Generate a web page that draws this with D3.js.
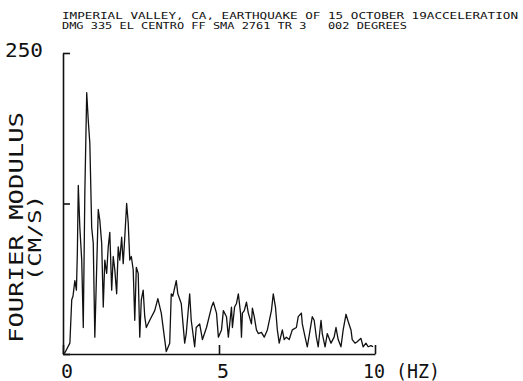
<!DOCTYPE html>
<html>
<head>
  <meta charset="utf-8">
  <title>Fourier modulus - Imperial Valley</title>
  <script src="https://d3js.org/d3.v7.min.js"></script>
  <style>
    body { margin: 0; background: #fff; }
    text { font-family: "DejaVu Sans Mono", monospace; fill: #111; white-space: pre; }
    .axis path, .axis line { stroke: #111; stroke-width: 1.6px; }
    .spectrum { fill: none; stroke: #111; stroke-width: 1.3px; stroke-linejoin: round; }
  </style>
</head>
<body>
  <svg width="523" height="381"></svg>

  <script>
    const width = 523;
    const height = 381;

    // header text
    const titleLines = [
      "IMPERIAL VALLEY, CA, EARTHQUAKE OF 15 OCTOBER 19ACCELERATION",
      "DMG 335 EL CENTRO FF SMA 2761 TR 3   002 DEGREES"
    ];

    // frequency (Hz) and Fourier modulus (cm/s)
    const freqHz = [
      0.00, 0.06, 0.22, 0.28, 0.32, 0.38, 0.43, 0.46, 0.49, 0.54,
      0.60, 0.65, 0.70, 0.76, 0.81, 0.86, 0.92, 0.97, 1.02, 1.08,
      1.13, 1.18, 1.24, 1.29, 1.34, 1.40, 1.45, 1.50, 1.56, 1.61,
      1.66, 1.72, 1.77, 1.82, 1.88, 1.93, 1.98, 2.04, 2.09, 2.14,
      2.19, 2.25, 2.30, 2.35, 2.41, 2.46, 2.51, 2.57, 2.62, 2.67,
      2.78, 2.94, 3.04, 3.15, 3.26, 3.31, 3.42, 3.47, 3.52, 3.63,
      3.68, 3.79, 3.90, 3.95, 4.06, 4.11, 4.22, 4.27, 4.38, 4.47,
      4.60, 4.76, 4.82, 4.92, 4.98, 5.08, 5.14, 5.24, 5.30, 5.40,
      5.43, 5.50, 5.56, 5.62, 5.69, 5.72, 5.75, 5.81, 5.88, 5.94,
      6.04, 6.07, 6.13, 6.20, 6.26, 6.36, 6.45, 6.55, 6.68, 6.74,
      6.81, 6.87, 6.93, 7.03, 7.09, 7.16, 7.25, 7.35, 7.48, 7.54,
      7.64, 7.67, 7.76, 7.83, 7.92, 7.99, 8.05, 8.12, 8.18, 8.27,
      8.31, 8.40, 8.47, 8.59, 8.69, 8.75, 8.82, 8.91, 8.98, 9.07,
      9.14, 9.23, 9.27, 9.36, 9.42, 9.55, 9.62, 9.71, 9.78, 9.87,
      9.94
    ];
    const modulus = [
      0, 1, 9, 45, 48, 61, 53, 84, 140, 105,
      78, 22, 134, 217, 194, 175, 105, 92, 14, 72,
      120, 111, 92, 39, 78, 67, 89, 101, 53, 81,
      70, 50, 89, 78, 97, 75, 97, 125, 109, 78,
      81, 70, 28, 72, 67, 14, 45, 53, 31, 22,
      28, 36, 46, 34, 12, 2, 9, 50, 48, 61,
      50, 42, 9, 17, 50, 28, 6, 22, 25, 12,
      22, 39, 43, 34, 14, 20, 36, 31, 14, 39,
      22, 39, 42, 50, 34, 14, 34, 36, 43, 34,
      25, 38, 31, 20, 17, 18, 14, 20, 36, 50,
      39, 20, 9, 20, 12, 14, 12, 20, 22, 31,
      34, 25, 14, 6, 20, 31, 28, 14, 6, 28,
      17, 6, 17, 9, 14, 22, 12, 6, 20, 33,
      27, 20, 12, 9, 10, 13, 6, 9, 6, 7,
      6
    ];

    const yTicks = [0, 125, 250];
    const xTicks = [0, 5, 10];

    const svg = d3.select("svg")
      .attr("width", width)
      .attr("height", height);

    const x = d3.scaleLinear().domain([0, 10]).range([63, 375]);
    const y = d3.scaleLinear().domain([0, 250]).range([354, 53]);

    // header
    svg.selectAll(".title")
      .data(titleLines)
      .enter().append("text")
      .attr("x", 62)
      .attr("y", (d, i) => 18.5 + i * 10.5)
      .attr("font-size", 9)
      .attr("textLength", (d, i) => i === 0 ? 456 : 345)
      .attr("lengthAdjust", "spacingAndGlyphs")
      .text(d => d);

    // axes: ticks point into the plot
    svg.append("g")
      .attr("class", "axis")
      .attr("transform", `translate(${x(0)},0)`)
      .call(d3.axisLeft(y).tickValues(yTicks).tickSize(-7).tickSizeOuter(0).tickFormat(""));

    svg.append("g")
      .attr("class", "axis")
      .attr("transform", `translate(0,${y(0)})`)
      .call(d3.axisBottom(x).tickValues(xTicks).tickSize(-9).tickSizeOuter(0).tickFormat(""));

    svg.selectAll(".axis .domain").attr("stroke", "#111");

    // spectrum line
    const pts = freqHz.map((f, i) => [f, modulus[i]]);
    svg.append("path")
      .datum(pts)
      .attr("class", "spectrum")
      .attr("d", d3.line().x(d => x(d[0])).y(d => y(d[1])));

    // y label at top
    svg.append("text")
      .attr("x", 5)
      .attr("y", 57)
      .attr("font-size", 19)
      .attr("textLength", 38)
      .attr("lengthAdjust", "spacingAndGlyphs")
      .text("250");

    // x tick labels
    svg.selectAll(".xlab")
      .data(xTicks)
      .enter().append("text")
      .attr("x", d => d === 10 ? x(d) - 12 : x(d) - 2)
      .attr("y", 378)
      .attr("font-size", 19)
      .attr("textLength", d => d === 10 ? 77 : 12)
      .attr("lengthAdjust", "spacingAndGlyphs")
      .text(d => d === 10 ? "10 (HZ)" : d);

    // rotated axis titles
    svg.append("text")
      .attr("transform", "translate(23,343) rotate(-90)")
      .attr("font-size", 20)
      .attr("textLength", 231)
      .attr("lengthAdjust", "spacingAndGlyphs")
      .text("FOURIER MODULUS");

    svg.append("text")
      .attr("transform", "translate(41,281) rotate(-90)")
      .attr("font-size", 18)
      .attr("textLength", 86)
      .attr("lengthAdjust", "spacingAndGlyphs")
      .text("(CM/S)");
  </script>
</body>
</html>
